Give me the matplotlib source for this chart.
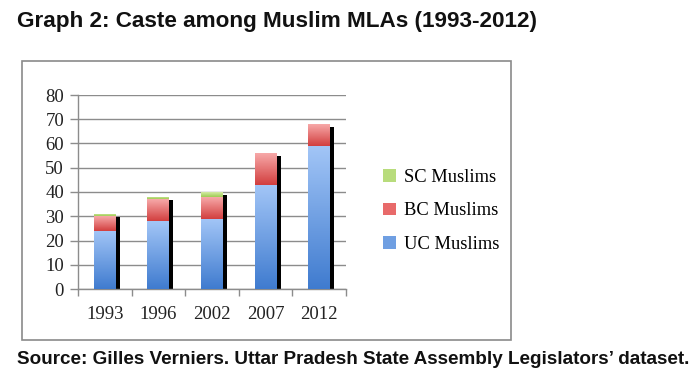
import matplotlib
matplotlib.use("Agg")
import matplotlib.pyplot as plt
import matplotlib.transforms as mtransforms
from matplotlib.patches import Rectangle, Patch
from matplotlib.colors import LinearSegmentedColormap
import numpy as np

years = ["1993", "1996", "2002", "2007", "2012"]
uc_muslims = [24, 28, 29, 43, 59]
bc_muslims = [6, 9, 9, 13, 9]
sc_muslims = [1, 1, 2, 0, 0]
yticks = [0, 10, 20, 30, 40, 50, 60, 70, 80]

W, H = 700, 388
fig = plt.figure(figsize=(7, 3.88), dpi=100)
fig.patch.set_facecolor("white")

def fx(px):
    return px / W

def fy(py):
    return 1 - py / H

# outer chart frame
fig.patches.append(Rectangle((fx(22), fy(340)), fx(511) - fx(22), fy(61) - fy(340),
                             transform=fig.transFigure, fill=False,
                             edgecolor="#8a8a8a", linewidth=1.2, zorder=0))

ax = fig.add_axes([fx(78), fy(289), fx(346) - fx(78), fy(95) - fy(289)])
ax.set_xlim(-0.5, len(years) - 0.5)
ax.set_ylim(0, 80)

x = np.arange(len(years))
width = 0.41
totals = [u + b + s for u, b, s in zip(uc_muslims, bc_muslims, sc_muslims)]

# shadow
shadow_tr = ax.transData + mtransforms.ScaledTranslation(4 / 100, -3 / 100, fig.dpi_scale_trans)
ax.bar(x, totals, width, color="black", transform=shadow_tr, zorder=2)

grad = np.linspace(0, 1, 256).reshape(-1, 1)

def gradient_bars(bottoms, heights, top_col, bot_col, z):
    cmap = LinearSegmentedColormap.from_list("g", [bot_col, top_col])
    bars = ax.bar(x, heights, width, bottom=bottoms, color=bot_col, zorder=z, linewidth=0)
    for b in bars:
        if b.get_height() <= 0:
            continue
        b.set_facecolor("none")
        x0, y0 = b.get_x(), b.get_y()
        im = ax.imshow(grad, cmap=cmap, origin="lower", aspect="auto",
                       extent=[x0, x0 + b.get_width(), y0, y0 + b.get_height()],
                       zorder=z, interpolation="bicubic")
        im.set_clip_path(b)
    return bars

gradient_bars([0] * 5, uc_muslims, "#a3c6f7", "#3f7bcf", 3)
bc_bottom = uc_muslims
gradient_bars(bc_bottom, bc_muslims, "#f7a9a9", "#d23e3e", 3)
sc_bottom = [u + b for u, b in zip(uc_muslims, bc_muslims)]
gradient_bars(sc_bottom, sc_muslims, "#d6eca6", "#9ccb52", 3)
ax.set_xlim(-0.5, len(years) - 0.5)
ax.set_ylim(0, 80)

ax.set_yticks(yticks)
ax.yaxis.grid(True, color="#8c8c8c", linewidth=1.0)
ax.set_axisbelow(True)
ax.set_xticks(x)
ax.set_xticklabels(years)
ax.set_xticks(np.arange(-0.5, len(years)), minor=True)
ax.tick_params(axis="x", which="major", length=0, pad=12)
ax.tick_params(axis="x", which="minor", length=5, color="#8c8c8c", width=1)
ax.tick_params(axis="y", length=6, color="#8c8c8c", width=1, pad=4)
for lab in ax.get_xticklabels() + ax.get_yticklabels():
    lab.set_fontfamily("Liberation Serif")
    lab.set_fontsize(13.5)
    lab.set_color("#222222")
for s in ["top", "right"]:
    ax.spines[s].set_visible(False)
for s in ["left", "bottom"]:
    ax.spines[s].set_color("#8c8c8c")
    ax.spines[s].set_linewidth(1)
ax.set_facecolor("none")

handles = [Patch(facecolor="#b8dc7c", edgecolor="none"),
           Patch(facecolor="#e86a6a", edgecolor="none"),
           Patch(facecolor="#6f9fe2", edgecolor="none")]
labels = ["SC Muslims", "BC Muslims", "UC Muslims"]
fig.legend(handles, labels, loc="center left", bbox_to_anchor=(fx(366), fy(211)),
           frameon=False, handlelength=0.7, handleheight=0.7, handletextpad=0.45,
           labelspacing=0.9, prop={"family": "Liberation Serif", "size": 13.3})

fig.text(fx(17), fy(22), "Graph 2: Caste among Muslim MLAs (1993-2012)",
         family="Liberation Sans", weight="bold", fontsize=16.2, va="center", ha="left",
         color="#111111")
fig.text(fx(17), fy(359), "Source: Gilles Verniers. Uttar Pradesh State Assembly Legislators\u2019 dataset.",
         family="Liberation Sans", weight="bold", fontsize=13.6, va="center", ha="left",
         color="#111111")

fig.savefig("out.png", dpi=100)
